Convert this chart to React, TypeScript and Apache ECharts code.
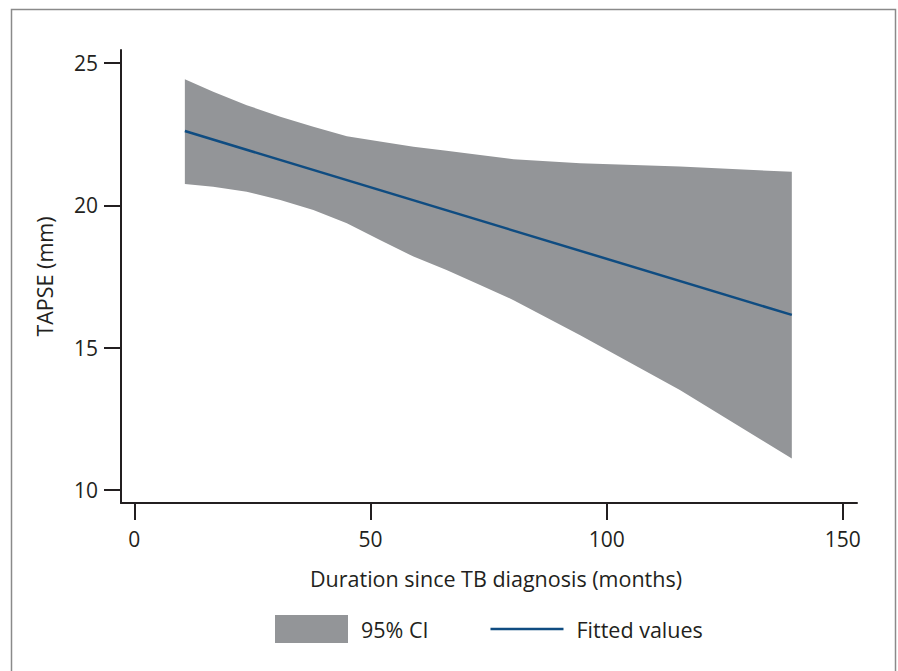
import React, { useEffect, useRef } from "react";
import * as echarts from "echarts";

// 95% CI band (months, TAPSE mm)
const ciMonths = [10.7, 16.7, 23.8, 30.9, 37.9, 45.0, 52.0, 59.1, 66.1, 73.2, 80.3, 94.4, 115.5, 139.2];
const ciUpper = [24.43, 23.99, 23.52, 23.11, 22.76, 22.43, 22.24, 22.06, 21.92, 21.77, 21.62, 21.48, 21.36, 21.18];
const ciLower = [20.75, 20.65, 20.48, 20.19, 19.84, 19.37, 18.78, 18.2, 17.73, 17.2, 16.67, 15.44, 13.51, 11.11];

// Fitted values (linear fit)
const fitMonths = [10.7, 139.2];
const fitValues = [22.61, 16.15];

const xTicks = [0, 50, 100, 150];
const yTicks = [10, 15, 20, 25];

const TEXT = "#231f20";
const FONT = "'Open Sans', 'Noto Sans', sans-serif";

export default function App() {
  const ref = useRef<HTMLDivElement>(null);
  useEffect(() => {
    document.body.style.margin = "0";
    const chart = echarts.init(ref.current!, null, { renderer: "svg" });
    const option: any = {
      animation: false,
      backgroundColor: "#ffffff",
      textStyle: { fontFamily: FONT, color: TEXT },
      grid: { left: 121, right: 41, top: 50, bottom: 168, containLabel: false },
      xAxis: {
        type: "value",
        min: -2.82,
        max: 153.0,
        z: 10,
        name: "Duration since TB diagnosis (months)",
        nameLocation: "middle",
        nameGap: 64,
        nameTextStyle: { fontFamily: FONT, fontSize: 21.5, color: TEXT, padding: [0, 0, 0, 14] },
        axisLine: { show: true, onZero: false, lineStyle: { color: TEXT, width: 2 } },
        axisTick: { show: true, length: 17, lineStyle: { color: TEXT, width: 2 }, customValues: xTicks },
        axisLabel: { fontFamily: FONT, fontSize: 21, color: TEXT, margin: 25, customValues: xTicks },
        splitLine: { show: false },
      },
      yAxis: {
        type: "value",
        min: 9.543,
        max: 25.457,
        z: 10,
        name: "TAPSE (mm)",
        nameLocation: "middle",
        nameGap: 66,
        nameTextStyle: { fontFamily: FONT, fontSize: 21.5, color: TEXT },
        axisLine: { show: true, onZero: false, lineStyle: { color: TEXT, width: 2 } },
        axisTick: { show: true, length: 17, lineStyle: { color: TEXT, width: 2 }, customValues: yTicks },
        axisLabel: { fontFamily: FONT, fontSize: 21, color: TEXT, margin: 23, customValues: yTicks },
        splitLine: { show: false },
      },
      legend: {
        left: 275,
        top: 615,
        padding: 0,
        itemWidth: 73,
        itemHeight: 28,
        itemGap: 62,
        textStyle: { fontFamily: FONT, fontSize: 21.5, color: TEXT, padding: [0, 0, 0, 8] },
        data: [
          { name: "95% CI", icon: "rect", itemStyle: { color: "#939598" } },
          { name: "Fitted values", icon: "path://M0,0L73,0L73,2.5L0,2.5Z", itemStyle: { color: "#0f4c81" } },
        ],
      },
      graphic: [
        {
          type: "rect",
          silent: true,
          z: -1,
          shape: { x: 11.5, y: 9.5, width: 884, height: 720 },
          style: { fill: "none", stroke: "#8a8a8a", lineWidth: 1.5 },
        },
      ],
      series: [
        {
          name: "95% CI",
          type: "custom",
          itemStyle: { color: "#939598" },
          data: [[ciMonths[0], ciUpper[0]]],
          encode: { x: 0, y: 1 },
          renderItem: (params: any, api: any) => {
            const pts: number[][] = [];
            for (let i = 0; i < ciMonths.length; i++) pts.push(api.coord([ciMonths[i], ciUpper[i]]));
            for (let i = ciMonths.length - 1; i >= 0; i--) pts.push(api.coord([ciMonths[i], ciLower[i]]));
            return {
              type: "polygon",
              shape: { points: pts },
              style: { fill: "#939598", stroke: "none" },
            };
          },
          z: 1,
        },
        {
          name: "Fitted values",
          type: "line",
          data: fitMonths.map((m, i) => [m, fitValues[i]]),
          symbol: "none",
          lineStyle: { color: "#0f4c81", width: 2.5 },
          itemStyle: { color: "#0f4c81" },
          z: 3,
        },
      ],
    };
    chart.setOption(option);
    return () => chart.dispose();
  }, []);
  return <div ref={ref} style={{ width: 898, height: 671 }} />;
}
